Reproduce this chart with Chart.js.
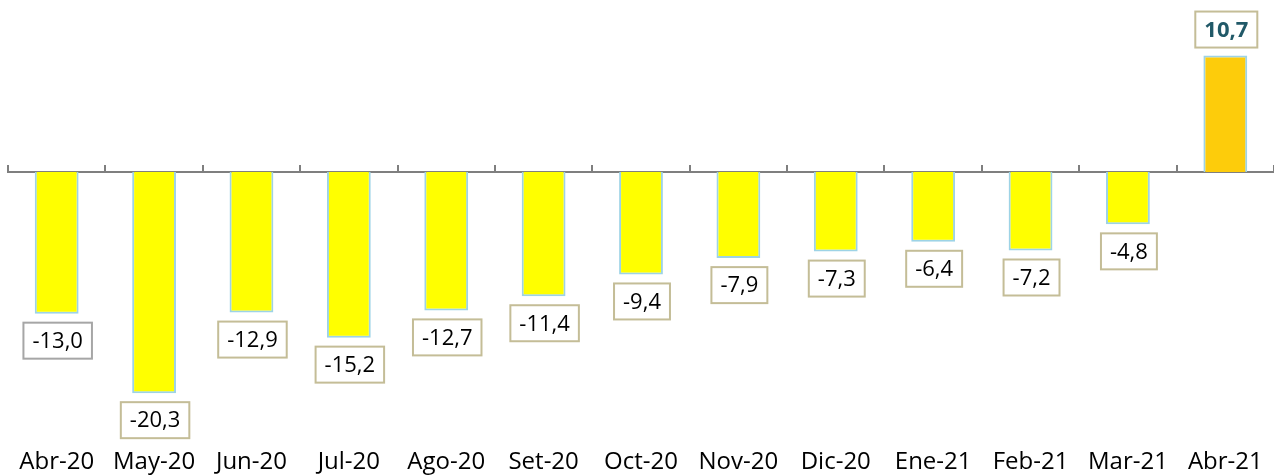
<!DOCTYPE html>
<html>
<head>
<meta charset="utf-8">
<script src="https://cdn.jsdelivr.net/npm/chart.js@4/dist/chart.umd.min.js"></script>
<style>
  html, body { margin: 0; padding: 0; background: #fff; }
  #wrap { width: 1274px; height: 476px; }
</style>
</head>
<body>
<div id="wrap"><canvas id="chart"></canvas></div>
<script>
// Monthly variation (%), Abr-20 .. Abr-21
const months = ['Abr-20', 'May-20', 'Jun-20', 'Jul-20', 'Ago-20', 'Set-20', 'Oct-20', 'Nov-20', 'Dic-20', 'Ene-21', 'Feb-21', 'Mar-21', 'Abr-21'];
const variation = [-13.0, -20.3, -12.9, -15.2, -12.7, -11.4, -9.4, -7.9, -7.3, -6.4, -7.2, -4.8, 10.7];

const FONT = "'Open Sans', 'Liberation Sans', sans-serif";
const fmt = (v) => v.toFixed(1).replace('.', ',');

const fills = variation.map((_, i) => (i === variation.length - 1 ? '#FDCC0B' : '#FFFF00'));
const boxBorders = variation.map((_, i) => (i === 0 ? '#A6A6A6' : '#C4BD97'));

// boxed value labels under (or above) each bar
const boxedLabels = {
  id: 'boxedLabels',
  afterDatasetsDraw(chart) {
    const ctx = chart.ctx;
    const meta = chart.getDatasetMeta(0);
    meta.data.forEach((bar, i) => {
      const v = variation[i];
      const last = i === variation.length - 1;
      const txt = fmt(v);
      ctx.save();
      ctx.font = (last ? 'bold ' : '') + '22px ' + FONT;
      const w = ctx.measureText(txt).width + 18;
      const h = 36;
      const top = v < 0 ? bar.y + 9 : bar.y - 8 - h;
      const left = bar.x - w / 2 + 1;
      ctx.fillStyle = '#fff';
      ctx.fillRect(left, top, w, h);
      ctx.strokeStyle = boxBorders[i];
      ctx.lineWidth = 2;
      ctx.strokeRect(left, top, w, h);
      ctx.fillStyle = last ? '#215968' : '#000';
      ctx.textAlign = 'center';
      ctx.textBaseline = 'middle';
      ctx.fillText(txt, left + w / 2, top + h / 2 + 1);
      ctx.restore();
    });
  },
};

new Chart(document.getElementById('chart'), {
  type: 'bar',
  data: {
    labels: months,
    datasets: [{
      data: variation,
      backgroundColor: fills,
      borderColor: '#9DD3E6',
      borderWidth: 2,
      categoryPercentage: 1,
      barPercentage: 0.45,
    }],
  },
  options: {
    responsive: true,
    maintainAspectRatio: false,
    animation: false,
    layout: { padding: { left: 8, right: 0, top: 0, bottom: -11 } },
    plugins: { legend: { display: false }, tooltip: { enabled: false } },
    scales: {
      x: {
        offset: true,
        grid: { display: false },
        border: { display: false },
        ticks: { color: '#000', padding: 10, maxRotation: 0, font: { family: FONT, size: 24 } },
      },
      zero: {
        type: 'category',
        labels: months,
        axis: 'x',
        position: { y: 0 },
        offset: true,
        grid: { offset: true, drawOnChartArea: false, drawTicks: true, tickLength: -8, color: '#7F7F7F', lineWidth: 2 },
        border: { display: true, color: '#7F7F7F', width: 2 },
        ticks: { display: false },
      },
      y: {
        min: -23.7,
        max: 15.8,
        display: false,
      },
    },
  },
  plugins: [boxedLabels],
});
</script>
</body>
</html>
